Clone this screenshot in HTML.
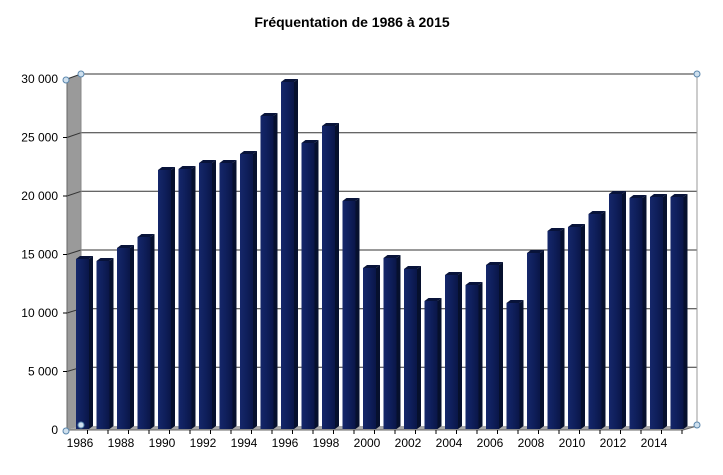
<!DOCTYPE html>
<html><head><meta charset="utf-8"><style>
body{margin:0;background:#fff;}
svg{display:block;font-family:"Liberation Sans",Arial,sans-serif;}
</style></head><body>
<svg width="723" height="475" viewBox="0 0 723 475" xmlns="http://www.w3.org/2000/svg">
<defs>
<linearGradient id="fr" x1="0" x2="1" y1="0" y2="0">
<stop offset="0" stop-color="#15276a"/><stop offset="0.5" stop-color="#0f1f5c"/><stop offset="1" stop-color="#0a1648"/>
</linearGradient>
</defs>
<text x="352" y="27" font-size="14" font-weight="bold" text-anchor="middle" fill="#000">Fréquentation de 1986 à 2015</text>
<polygon points="67,79 81,74 81,426 67,430" fill="#9a9a9a"/>
<polygon points="67,430 81,426 697,426 683,430" fill="#a8a8a8"/>
<g stroke="#333" stroke-width="1">
<line x1="81" y1="74" x2="697" y2="74"/>
<line x1="81" y1="132.7" x2="697" y2="132.7"/>
<line x1="81" y1="191.3" x2="697" y2="191.3"/>
<line x1="81" y1="250" x2="697" y2="250"/>
<line x1="81" y1="308.7" x2="697" y2="308.7"/>
<line x1="81" y1="367.3" x2="697" y2="367.3"/>
<line x1="67" y1="79" x2="81" y2="74"/>
<line x1="67" y1="137.5" x2="81" y2="132.7"/>
<line x1="67" y1="196" x2="81" y2="191.3"/>
<line x1="67" y1="254.5" x2="81" y2="250"/>
<line x1="67" y1="313" x2="81" y2="308.7"/>
<line x1="67" y1="371.5" x2="81" y2="367.3"/>
</g>
<line x1="697" y1="74" x2="697" y2="426" stroke="#999"/>
<line x1="81" y1="74" x2="81" y2="426" stroke="#888"/>
<line x1="67" y1="79" x2="67" y2="430" stroke="#666"/>
<line x1="67" y1="430" x2="683" y2="430" stroke="#666"/>
<line x1="683" y1="430" x2="697" y2="426" stroke="#666"/>
<g stroke="#000">
<line x1="63" y1="430" x2="67" y2="430"/><line x1="63" y1="371.5" x2="67" y2="371.5"/><line x1="63" y1="313" x2="67" y2="313"/><line x1="63" y1="254.5" x2="67" y2="254.5"/><line x1="63" y1="196" x2="67" y2="196"/><line x1="63" y1="137.5" x2="67" y2="137.5"/><line x1="63" y1="79" x2="67" y2="79"/>
</g>
<g font-size="12" text-anchor="end" fill="#000">
<text x="58" y="434">0</text><text x="58" y="375.5">5 000</text><text x="58" y="317">10 000</text><text x="58" y="258.5">15 000</text><text x="58" y="200">20 000</text><text x="58" y="141.5">25 000</text><text x="58" y="83">30 000</text>
</g>
<g stroke="#000">
<line x1="67" y1="430" x2="67" y2="434"/>
<line x1="87.5" y1="430" x2="87.5" y2="434"/><line x1="108" y1="430" x2="108" y2="434"/><line x1="128.5" y1="430" x2="128.5" y2="434"/><line x1="149" y1="430" x2="149" y2="434"/><line x1="169.5" y1="430" x2="169.5" y2="434"/><line x1="190" y1="430" x2="190" y2="434"/><line x1="210.5" y1="430" x2="210.5" y2="434"/><line x1="231" y1="430" x2="231" y2="434"/><line x1="251.5" y1="430" x2="251.5" y2="434"/><line x1="272" y1="430" x2="272" y2="434"/><line x1="292.5" y1="430" x2="292.5" y2="434"/><line x1="313" y1="430" x2="313" y2="434"/><line x1="333.5" y1="430" x2="333.5" y2="434"/><line x1="354" y1="430" x2="354" y2="434"/><line x1="374.5" y1="430" x2="374.5" y2="434"/><line x1="395" y1="430" x2="395" y2="434"/><line x1="415.5" y1="430" x2="415.5" y2="434"/><line x1="436" y1="430" x2="436" y2="434"/><line x1="456.5" y1="430" x2="456.5" y2="434"/><line x1="477" y1="430" x2="477" y2="434"/><line x1="497.5" y1="430" x2="497.5" y2="434"/><line x1="518" y1="430" x2="518" y2="434"/><line x1="538.5" y1="430" x2="538.5" y2="434"/><line x1="559" y1="430" x2="559" y2="434"/><line x1="579.5" y1="430" x2="579.5" y2="434"/><line x1="600" y1="430" x2="600" y2="434"/><line x1="620.5" y1="430" x2="620.5" y2="434"/><line x1="641" y1="430" x2="641" y2="434"/><line x1="661.5" y1="430" x2="661.5" y2="434"/><line x1="682" y1="430" x2="682" y2="434"/>
</g>
<g font-size="12" text-anchor="middle" fill="#000">
<text x="80" y="447">1986</text><text x="121" y="447">1988</text><text x="162" y="447">1990</text><text x="203" y="447">1992</text><text x="244" y="447">1994</text><text x="285" y="447">1996</text><text x="326" y="447">1998</text><text x="367" y="447">2000</text><text x="408" y="447">2002</text><text x="449" y="447">2004</text><text x="490" y="447">2006</text><text x="531" y="447">2008</text><text x="572" y="447">2010</text><text x="613" y="447">2012</text><text x="654" y="447">2014</text>
</g>
<g>
<g transform="translate(76,259)"><rect width="13" height="170" fill="url(#fr)"/><polygon points="13,0 17,-3 17,167 13,170" fill="#06102e"/><polygon points="0,0 4,-3 17,-3 13,0" fill="#08133a"/></g>
<g transform="translate(96.5,261)"><rect width="13" height="168" fill="url(#fr)"/><polygon points="13,0 17,-3 17,165 13,168" fill="#06102e"/><polygon points="0,0 4,-3 17,-3 13,0" fill="#08133a"/></g>
<g transform="translate(117,248)"><rect width="13" height="181" fill="url(#fr)"/><polygon points="13,0 17,-3 17,178 13,181" fill="#06102e"/><polygon points="0,0 4,-3 17,-3 13,0" fill="#08133a"/></g>
<g transform="translate(137.5,237)"><rect width="13" height="192" fill="url(#fr)"/><polygon points="13,0 17,-3 17,189 13,192" fill="#06102e"/><polygon points="0,0 4,-3 17,-3 13,0" fill="#08133a"/></g>
<g transform="translate(158,170)"><rect width="13" height="259" fill="url(#fr)"/><polygon points="13,0 17,-3 17,256 13,259" fill="#06102e"/><polygon points="0,0 4,-3 17,-3 13,0" fill="#08133a"/></g>
<g transform="translate(178.5,169)"><rect width="13" height="260" fill="url(#fr)"/><polygon points="13,0 17,-3 17,257 13,260" fill="#06102e"/><polygon points="0,0 4,-3 17,-3 13,0" fill="#08133a"/></g>
<g transform="translate(199,163)"><rect width="13" height="266" fill="url(#fr)"/><polygon points="13,0 17,-3 17,263 13,266" fill="#06102e"/><polygon points="0,0 4,-3 17,-3 13,0" fill="#08133a"/></g>
<g transform="translate(219.5,163)"><rect width="13" height="266" fill="url(#fr)"/><polygon points="13,0 17,-3 17,263 13,266" fill="#06102e"/><polygon points="0,0 4,-3 17,-3 13,0" fill="#08133a"/></g>
<g transform="translate(240,154)"><rect width="13" height="275" fill="url(#fr)"/><polygon points="13,0 17,-3 17,272 13,275" fill="#06102e"/><polygon points="0,0 4,-3 17,-3 13,0" fill="#08133a"/></g>
<g transform="translate(260.5,116)"><rect width="13" height="313" fill="url(#fr)"/><polygon points="13,0 17,-3 17,310 13,313" fill="#06102e"/><polygon points="0,0 4,-3 17,-3 13,0" fill="#08133a"/></g>
<g transform="translate(281,82)"><rect width="13" height="347" fill="url(#fr)"/><polygon points="13,0 17,-3 17,344 13,347" fill="#06102e"/><polygon points="0,0 4,-3 17,-3 13,0" fill="#08133a"/></g>
<g transform="translate(301.5,143)"><rect width="13" height="286" fill="url(#fr)"/><polygon points="13,0 17,-3 17,283 13,286" fill="#06102e"/><polygon points="0,0 4,-3 17,-3 13,0" fill="#08133a"/></g>
<g transform="translate(322,126)"><rect width="13" height="303" fill="url(#fr)"/><polygon points="13,0 17,-3 17,300 13,303" fill="#06102e"/><polygon points="0,0 4,-3 17,-3 13,0" fill="#08133a"/></g>
<g transform="translate(342.5,201)"><rect width="13" height="228" fill="url(#fr)"/><polygon points="13,0 17,-3 17,225 13,228" fill="#06102e"/><polygon points="0,0 4,-3 17,-3 13,0" fill="#08133a"/></g>
<g transform="translate(363,268)"><rect width="13" height="161" fill="url(#fr)"/><polygon points="13,0 17,-3 17,158 13,161" fill="#06102e"/><polygon points="0,0 4,-3 17,-3 13,0" fill="#08133a"/></g>
<g transform="translate(383.5,258)"><rect width="13" height="171" fill="url(#fr)"/><polygon points="13,0 17,-3 17,168 13,171" fill="#06102e"/><polygon points="0,0 4,-3 17,-3 13,0" fill="#08133a"/></g>
<g transform="translate(404,269)"><rect width="13" height="160" fill="url(#fr)"/><polygon points="13,0 17,-3 17,157 13,160" fill="#06102e"/><polygon points="0,0 4,-3 17,-3 13,0" fill="#08133a"/></g>
<g transform="translate(424.5,301)"><rect width="13" height="128" fill="url(#fr)"/><polygon points="13,0 17,-3 17,125 13,128" fill="#06102e"/><polygon points="0,0 4,-3 17,-3 13,0" fill="#08133a"/></g>
<g transform="translate(445,275)"><rect width="13" height="154" fill="url(#fr)"/><polygon points="13,0 17,-3 17,151 13,154" fill="#06102e"/><polygon points="0,0 4,-3 17,-3 13,0" fill="#08133a"/></g>
<g transform="translate(465.5,285)"><rect width="13" height="144" fill="url(#fr)"/><polygon points="13,0 17,-3 17,141 13,144" fill="#06102e"/><polygon points="0,0 4,-3 17,-3 13,0" fill="#08133a"/></g>
<g transform="translate(486,265)"><rect width="13" height="164" fill="url(#fr)"/><polygon points="13,0 17,-3 17,161 13,164" fill="#06102e"/><polygon points="0,0 4,-3 17,-3 13,0" fill="#08133a"/></g>
<g transform="translate(506.5,303)"><rect width="13" height="126" fill="url(#fr)"/><polygon points="13,0 17,-3 17,123 13,126" fill="#06102e"/><polygon points="0,0 4,-3 17,-3 13,0" fill="#08133a"/></g>
<g transform="translate(527,253)"><rect width="13" height="176" fill="url(#fr)"/><polygon points="13,0 17,-3 17,173 13,176" fill="#06102e"/><polygon points="0,0 4,-3 17,-3 13,0" fill="#08133a"/></g>
<g transform="translate(547.5,231)"><rect width="13" height="198" fill="url(#fr)"/><polygon points="13,0 17,-3 17,195 13,198" fill="#06102e"/><polygon points="0,0 4,-3 17,-3 13,0" fill="#08133a"/></g>
<g transform="translate(568,227)"><rect width="13" height="202" fill="url(#fr)"/><polygon points="13,0 17,-3 17,199 13,202" fill="#06102e"/><polygon points="0,0 4,-3 17,-3 13,0" fill="#08133a"/></g>
<g transform="translate(588.5,214)"><rect width="13" height="215" fill="url(#fr)"/><polygon points="13,0 17,-3 17,212 13,215" fill="#06102e"/><polygon points="0,0 4,-3 17,-3 13,0" fill="#08133a"/></g>
<g transform="translate(609,194)"><rect width="13" height="235" fill="url(#fr)"/><polygon points="13,0 17,-3 17,232 13,235" fill="#06102e"/><polygon points="0,0 4,-3 17,-3 13,0" fill="#08133a"/></g>
<g transform="translate(629.5,198)"><rect width="13" height="231" fill="url(#fr)"/><polygon points="13,0 17,-3 17,228 13,231" fill="#06102e"/><polygon points="0,0 4,-3 17,-3 13,0" fill="#08133a"/></g>
<g transform="translate(650,197)"><rect width="13" height="232" fill="url(#fr)"/><polygon points="13,0 17,-3 17,229 13,232" fill="#06102e"/><polygon points="0,0 4,-3 17,-3 13,0" fill="#08133a"/></g>
<g transform="translate(670.5,197)"><rect width="13" height="232" fill="url(#fr)"/><polygon points="13,0 17,-3 17,229 13,232" fill="#06102e"/><polygon points="0,0 4,-3 17,-3 13,0" fill="#08133a"/></g>
</g>
<g fill="#cfe0ee" stroke="#5b87ad" stroke-width="1">
<circle cx="66" cy="80" r="3"/><circle cx="81" cy="74" r="3"/><circle cx="697" cy="74" r="3"/>
<circle cx="66" cy="431" r="3"/><circle cx="81" cy="425" r="3"/><circle cx="697" cy="425" r="3"/>
</g>
</svg>
</body></html>
